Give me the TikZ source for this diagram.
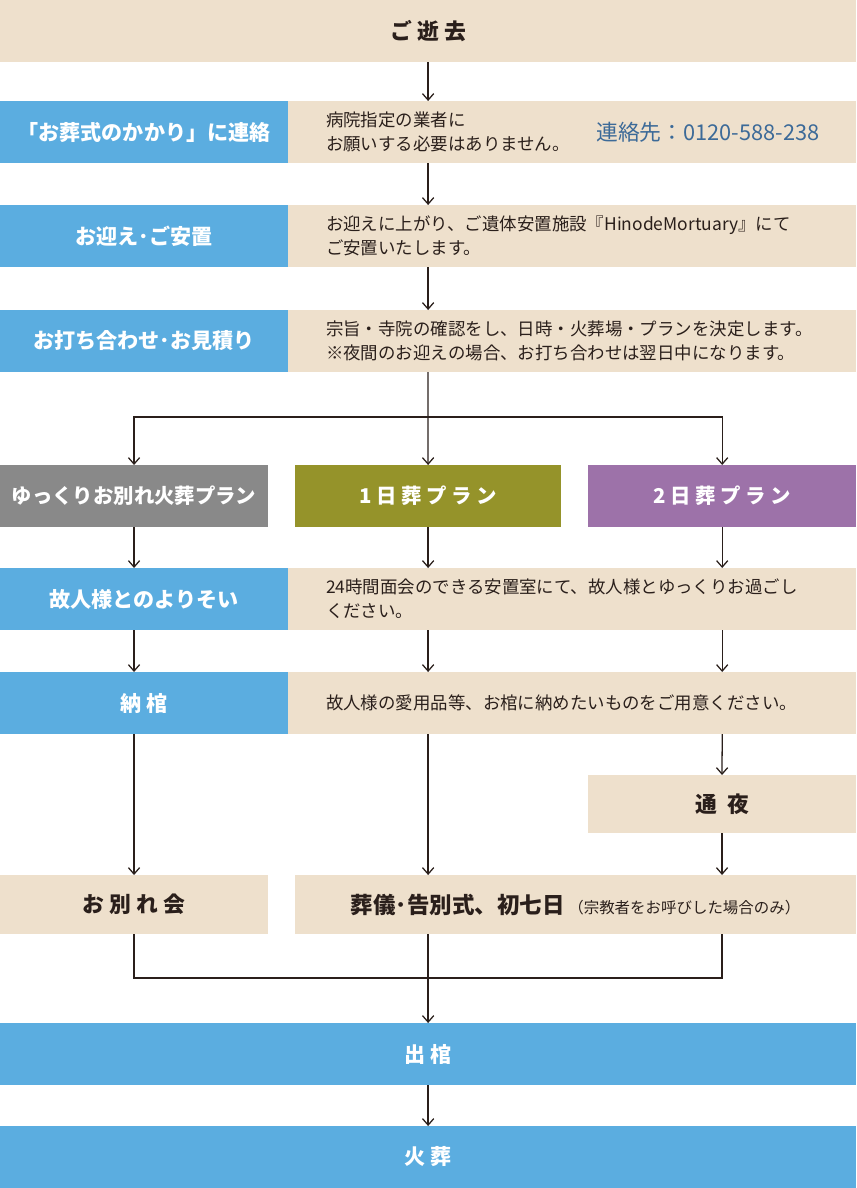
\documentclass[tikz,border=0pt]{standalone}
\usepackage{fontspec}
\setmainfont{Noto Sans CJK JP}
\usetikzlibrary{arrows.meta,positioning}
\definecolor{flowblue}{HTML}{5BADE0}
\definecolor{flowbeige}{HTML}{EEE0CC}
\definecolor{flowgray}{HTML}{898989}
\definecolor{flowolive}{HTML}{95932A}
\definecolor{flowpurple}{HTML}{9D72A9}
\definecolor{flowtel}{HTML}{3C6A98}
\definecolor{flowtext}{HTML}{2A1F1B}
\tikzset{
  box/.style = {inner sep=0pt, outer sep=0pt, minimum height=1.55cm,
    text centered, anchor=north west},
  box_head/.style = {box, fill=flowbeige, text=flowtext,
    font=\bfseries\fontsize{15.5}{18}\selectfont},
  box_blue/.style = {box, fill=flowblue, text=white,
    font=\bfseries\fontsize{15}{18}\selectfont, minimum width=7.2cm},
  box_note/.style = {box, fill=flowbeige, text=flowtext, align=left,
    text width=12.3cm, inner xsep=0.95cm, font=\fontsize{12.4}{17}\selectfont},
  box_plan/.style = {box, text=white, font=\bfseries\fontsize{14.5}{18}\selectfont},
  flow/.style = {draw=flowtext, line width=0.9pt}
}

\begin{document}
\begin{tikzpicture}[x=0.025cm, y=-0.025cm, >={Straight Barb[length=1.6mm,width=2.8mm,line width=0.9pt]}]
  \useasboundingbox (0,0) rectangle (856,1188);
  % steps
  \node [box_head, minimum width=21.4cm] (top) at (0,0) {ご 逝 去};
  \node [box_blue] (r2l) at (0,101) {「お葬式のかかり」に連絡};
  \node [box_note, right=0pt of r2l] (r2d) {病院指定の業者に\\お願いする必要はありません。};
  \node [text=flowtel, font=\fontsize{15.5}{18}\selectfont] (tel) at (708,132) {連絡先：0120-588-238};
  \node [box_blue] (r3l) at (0,205) {お迎え･ご安置};
  \node [box_note, right=0pt of r3l] (r3d) {お迎えに上がり、ご遺体安置施設『HinodeMortuary』にて\\ご安置いたします。};
  \node [box_blue] (r4l) at (0,310) {お打ち合わせ･お見積り};
  \node [box_note, right=0pt of r4l] (r4d) {宗旨・寺院の確認をし、日時・火葬場・プランを決定します。\\※夜間のお迎えの場合、お打ち合わせは翌日中になります。};
  % plans
  \node [box_plan, fill=flowgray, minimum width=6.7cm] (gray) at (0,465) {ゆっくりお別れ火葬プラン};
  \node [box_plan, fill=flowolive, minimum width=6.65cm, right=0.675cm of gray] (olive) {1 日 葬 プ ラ ン};
  \node [box_plan, fill=flowpurple, minimum width=6.7cm, right=0.675cm of olive] (purple) {2 日 葬 プ ラ ン};
  \node [box_blue] (r5l) at (0,568) {故人様とのよりそい};
  \node [box_note, right=0pt of r5l] (r5d) {24時間面会のできる安置室にて、故人様とゆっくりお過ごし\\ください。};
  \node [box_blue] (r6l) at (0,672) {納 棺};
  \node [box_note, right=0pt of r6l] (r6d) {故人様の愛用品等、お棺に納めたいものをご用意ください。};
  \node [box_head, minimum width=6.7cm, minimum height=1.45cm] (wake) at (588,775) {通\hspace{0.25cm}夜};
  \node [box_head, minimum width=6.7cm, minimum height=1.475cm] (farewell) at (0,875) {お 別 れ 会};
  \node [box_head, minimum width=14.025cm, minimum height=1.475cm, font=\bfseries\fontsize{16}{18}\selectfont] (funeral) at (295,875)
    {葬儀･告別式、初七日\,{\mdseries\fontsize{11}{12}\selectfont（宗教者をお呼びした場合のみ）}};
  \node [box_blue, minimum width=21.4cm] (out) at (0,1023) {出 棺};
  \node [box_blue, minimum width=21.4cm] (fire) at (0,1126) {火 葬};
  \coordinate (split) at (428,417);
  \coordinate (merge) at (428,978);
  % connectors
  \draw [flow, ->] (top.south) -- (top.south |- r2d.north);
  \draw [flow, ->] (top.south |- r2d.south) -- (top.south |- r3d.north);
  \draw [flow, ->] (top.south |- r3d.south) -- (top.south |- r4d.north);
  \draw [flow] (top.south |- r4d.south) -- (split);
  \draw [flow, ->] (split) -- (olive.north);
  \draw [flow, ->] (split) -| (gray.north);
  \draw [flow, ->] (split) -| (purple.north);
  \draw [flow, ->] (gray.south) -- (gray.south |- r5l.north);
  \draw [flow, ->] (olive.south) -- (olive.south |- r5d.north);
  \draw [flow, ->] (purple.south) -- (purple.south |- r5d.north);
  \draw [flow, ->] (gray.south |- r5l.south) -- (gray.south |- r6l.north);
  \draw [flow, ->] (olive.south |- r5d.south) -- (olive.south |- r6d.north);
  \draw [flow, ->] (purple.south |- r5d.south) -- (purple.south |- r6d.north);
  \draw [flow, ->] (gray.south |- r6l.south) -- (farewell.north);
  \draw [flow, ->] (olive.south |- r6d.south) -- (olive.south |- funeral.north);
  \draw [flow, ->] (purple.south |- r6d.south) -- (wake.north);
  \draw [flow, ->] (wake.south) -- (wake.south |- funeral.north);
  \draw [flow] (farewell.south) |- (merge) -| (wake.south |- funeral.south);
  \draw [flow, ->] (olive.south |- funeral.south) -- (olive.south |- out.north);
  \draw [flow, ->] (out.south) -- (fire.north);
\end{tikzpicture}
\end{document}
